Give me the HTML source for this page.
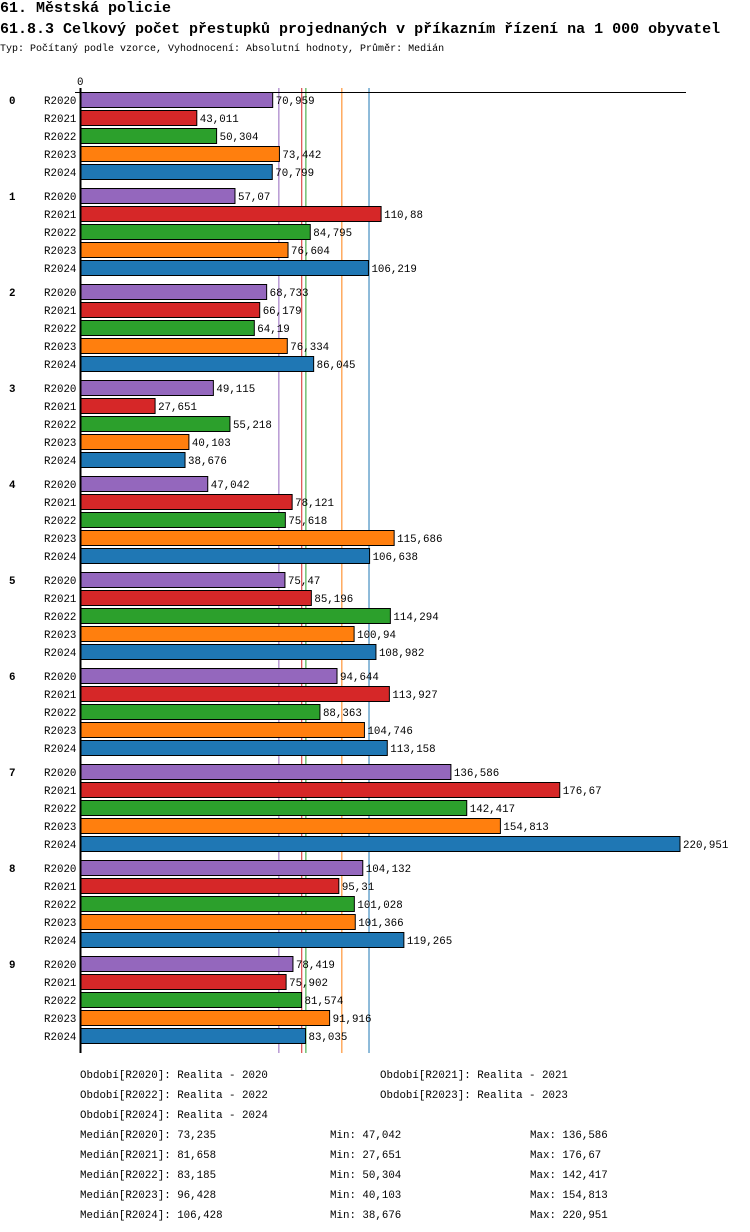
<!DOCTYPE html>
<html><head><meta charset="utf-8">
<style>
body{margin:0;background:#fff;width:750px;height:1232px;overflow:hidden;font-family:"Liberation Mono","DejaVu Sans Mono",monospace;}
.t1{position:absolute;left:0;top:1px;font-size:15px;font-weight:bold;line-height:15px;}
.t2{position:absolute;left:0;top:22px;font-size:15px;font-weight:bold;line-height:15px;}
.t3{position:absolute;left:0;top:44px;font-size:10px;}
svg{position:absolute;left:0;top:0;}
text{font-family:"Liberation Mono","DejaVu Sans Mono",monospace;font-size:10.8px;}
</style></head><body>
<div class="t1">61. Městská policie</div>
<div class="t2">61.8.3 Celkový počet přestupků projednaných v příkazním řízení na 1 000 obyvatel</div>
<div class="t3">Typ: Počítaný podle vzorce, Vyhodnocení: Absolutní hodnoty, Průměr: Medián</div>
<svg id="chart" width="750" height="1232"></svg>
<script>
const categories=["0","1","2","3","4","5","6","7","8","9"];
const seriesNames=["R2020","R2021","R2022","R2023","R2024"];
const s2020=[70.959,57.07,68.733,49.115,47.042,75.47,94.644,136.586,104.132,78.419];
const s2021=[43.011,110.88,66.179,27.651,78.121,85.196,113.927,176.67,95.31,75.902];
const s2022=[50.304,84.795,64.19,55.218,75.618,114.294,88.363,142.417,101.028,81.574];
const s2023=[73.442,76.604,76.334,40.103,115.686,100.94,104.746,154.813,101.366,91.916];
const s2024=[70.799,106.219,86.045,38.676,106.638,108.982,113.158,220.951,119.265,83.035];
const medians=[73.235,81.658,83.185,96.428,106.428];
const mins=[47.042,27.651,50.304,40.103,38.676];
const maxs=[136.586,176.67,142.417,154.813,220.951];
const labels2020=["70,959","57,07","68,733","49,115","47,042","75,47","94,644","136,586","104,132","78,419"];
const labels2021=["43,011","110,88","66,179","27,651","78,121","85,196","113,927","176,67","95,31","75,902"];
const labels2022=["50,304","84,795","64,19","55,218","75,618","114,294","88,363","142,417","101,028","81,574"];
const labels2023=["73,442","76,604","76,334","40,103","115,686","100,94","104,746","154,813","101,366","91,916"];
const labels2024=["70,799","106,219","86,045","38,676","106,638","108,982","113,158","220,951","119,265","83,035"];
const colors=["#9467bd","#d62728","#2ca02c","#ff7f0e","#1f77b4"];
const series=[s2020,s2021,s2022,s2023,s2024];
const lbls=[labels2020,labels2021,labels2022,labels2023,labels2024];
const X0=80,XMAX=220.951,XW=600;
const x=v=>X0+v/XMAX*XW;
const yRow=(g,s)=>92+g*96+s*18;
const svg=document.getElementById('chart');
const NS='http://www.w3.org/2000/svg';
function mk(tag,attrs,txt){const e=document.createElementNS(NS,tag);for(const k in attrs)e.setAttribute(k,attrs[k]);if(txt!==undefined)e.textContent=txt;svg.appendChild(e);return e;}
medians.forEach((m,i)=>{
 const l=mk('line',{x1:x(m),x2:x(m),y1:88,y2:1053,stroke:colors[i],'stroke-width':1});
 
 
});
const ax=mk('line',{x1:75,x2:686,y1:92.5,y2:92.5,stroke:'#000','stroke-width':1});


const ay=mk('line',{x1:80.5,x2:80.5,y1:88,y2:1053,stroke:'#000','stroke-width':2});


const z=mk('text',{x:77,y:85},'0');


categories.forEach((c,g)=>{
 const gl=mk('text',{x:9,y:yRow(g,0)+12,'font-weight':'bold'},c);
 
 
 series.forEach((arr,s)=>{
  const y=yRow(g,s);
  const sl=mk('text',{x:44,y:y+12},seriesNames[s]);
  
  
  const r=mk('rect',{x:81,y:y+0.5,width:x(arr[g])-81,height:15,fill:colors[s],stroke:'#000','stroke-width':1});
  
  
  const vl=mk('text',{x:x(arr[g])+3,y:y+12},lbls[s][g]);
  
  
 });
});
const leg=[["Období[R2020]: Realita - 2020",80,1078],["Období[R2021]: Realita - 2021",380,1078],["Období[R2022]: Realita - 2022",80,1098],["Období[R2023]: Realita - 2023",380,1098],["Období[R2024]: Realita - 2024",80,1118]];
leg.forEach(a=>{const t=mk('text',{x:a[1],y:a[2]},a[0]);
 
 });
const f=v=>String(v).replace('.',',');
seriesNames.forEach((n,i)=>{
 const y=1138+i*20;
 const a=mk('text',{x:80,y:y},'Medián['+n+']: '+f(medians[i]));
 
 
 const b=mk('text',{x:330,y:y},'Min: '+f(mins[i]));
 
 
 const d=mk('text',{x:530,y:y},'Max: '+f(maxs[i]));
 
 
});
</script>
</body></html>
